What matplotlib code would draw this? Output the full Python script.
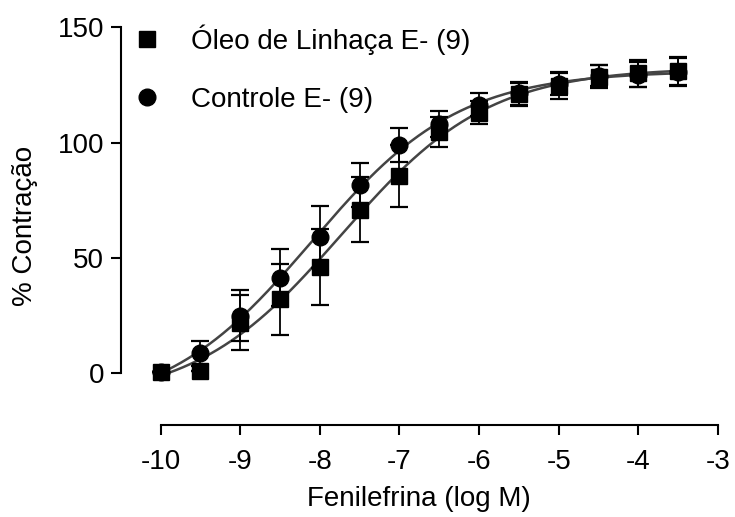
import numpy as np
import matplotlib
matplotlib.use('Agg')
import matplotlib.pyplot as plt
from matplotlib.lines import Line2D

plt.rcParams['font.family'] = ['Liberation Sans', 'DejaVu Sans']
plt.rcParams['axes.unicode_minus'] = False

## Data

log_fen = [-10, -9.5, -9, -8.5, -8, -7.5, -7, -6.5, -6, -5.5, -5, -4.5, -4, -3.5]

oleo = [0.5, 0.8, 22, 32, 46, 71, 85.5, 104.5, 113, 121, 124.5, 128.5, 130, 131]
oleo_err = [0, 0, 12, 15.5, 16.5, 14, 13.5, 6.5, 5, 5, 5.5, 5, 6, 6]

controle = [0.5, 8.6, 25, 41.5, 59, 81.5, 99, 108, 116.5, 121.5, 125.5, 129, 129.5, 130.5]
controle_err = [0, 5.5, 11, 12.5, 13.5, 9.5, 7.5, 5.5, 5, 5, 5, 4.5, 5.5, 6]

labels = ['Óleo de Linhaça E- (9)', 'Controle E- (9)']


# 4-parameter sigmoid fit, grid search on ec50 / slope, least squares for bottom & top
def sig(x, bottom, top, ec50, n):
    return bottom + (top - bottom) / (1 + 10 ** ((ec50 - x) * n))


def fit(x, y):
    x = np.array(x)
    y = np.array(y)
    best = None
    for ec50 in np.arange(-9, -6, 0.01):
        for n in np.arange(0.3, 1.5, 0.01):
            f = 1 / (1 + 10 ** ((ec50 - x) * n))
            A = np.column_stack([1 - f, f])
            coef, res, _, _ = np.linalg.lstsq(A, y, rcond=None)
            err = np.sum((y - A @ coef) ** 2)
            if best is None or err < best[0]:
                best = (err, coef[0], coef[1], ec50, n)
    return best[1:]


xs = np.linspace(log_fen[0], log_fen[-1], 300)

fig = plt.figure(figsize=(7.35, 5.17), dpi=100)
ax = fig.add_axes([0.1642, 0.178, 0.9769 - 0.1642, 0.9472 - 0.178])

for y, e, m, ms in [(oleo, oleo_err, 's', 11.5), (controle, controle_err, 'o', 12)]:
    p = fit(log_fen, y)
    ax.plot(xs, sig(xs, *p), color='#444444', lw=1.8, zorder=2)
    ax.errorbar(log_fen, y, yerr=e, fmt=m, color='black', ms=ms,
                ecolor='black', elinewidth=1.3, capsize=6.5, capthick=1.6, zorder=3)

ax.set_xlim(-10.5, -3)
ax.set_ylim(-22.4, 150)
ax.spines['top'].set_visible(False)
ax.spines['right'].set_visible(False)
ax.spines['left'].set_bounds(0, 150)
ax.spines['bottom'].set_bounds(-10, -3)
ax.spines['left'].set_linewidth(1.5)
ax.spines['bottom'].set_linewidth(1.5)

ax.set_xticks(range(-10, -2))
ax.set_yticks([0, 50, 100, 150])
ax.tick_params(labelsize=20, width=1.5, length=7)
ax.tick_params(axis='x', pad=10)
ax.tick_params(axis='y', pad=5)
ax.set_xlabel('Fenilefrina (log M)', fontsize=20, labelpad=8)
ax.set_ylabel('% Contração', fontsize=20, labelpad=14)

handles = [Line2D([], [], marker='s', ls='none', color='black', ms=12),
           Line2D([], [], marker='o', ls='none', color='black', ms=12)]
ax.legend(handles, labels, loc='upper left', bbox_to_anchor=(0.147, 0.975),
          bbox_transform=fig.transFigure, frameon=False, fontsize=20,
          handletextpad=0.6, labelspacing=1.16, borderaxespad=0)

fig.savefig('out.png', dpi=100)
